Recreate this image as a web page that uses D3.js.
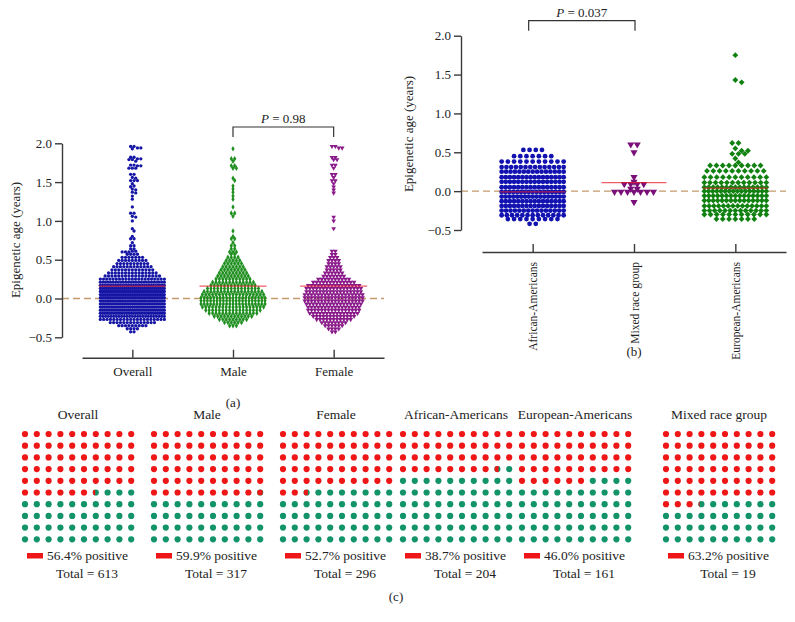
<!DOCTYPE html>
<html><head><meta charset="utf-8">
<script src="https://cdn.jsdelivr.net/npm/d3@7/dist/d3.min.js"></script>
<style>
html,body{margin:0;padding:0;background:#fff;}
text{font-family:"Liberation Serif","DejaVu Serif",serif;fill:#222;}
</style></head>
<body><svg id="chart" width="795" height="622"></svg>
<script>
// ---------------- DATA ----------------
// Panel (a): categories and [value, count] levels read from the swarm
const catsA = ["Overall", "Male", "Female"];
const maleVals = [
[1.93,1],[1.80,2],[1.77,1],[1.71,2],[1.68,2],[1.55,1],[1.52,1],[1.45,1],[1.41,1],[1.37,1],[1.32,1],[1.28,1],[1.18,1],[1.10,2],[1.06,1],[0.87,1],[0.80,1],[0.77,2],[0.72,1],[0.68,2],[0.64,2],[0.60,3],[0.57,2],
[0.53,4],[0.49,5],[0.45,6],[0.41,7],[0.37,8],[0.33,9],[0.29,10],[0.25,11],[0.21,13],[0.17,14],[0.13,16],[0.09,18],[0.05,19],[0.01,21],[-0.03,21],[-0.07,21],[-0.11,19],[-0.15,17],[-0.19,15],[-0.23,12],[-0.27,9],[-0.31,6],[-0.35,3]
];
const femaleVals = [
[1.96,2],[1.94,2],[1.82,2],[1.79,2],[1.72,2],[1.68,1],[1.60,2],[1.56,1],[1.52,2],[1.48,1],[1.44,1],[1.40,1],[1.36,1],[1.05,1],[1.00,1],[0.90,1],
[0.61,2],[0.57,2],[0.53,3],[0.49,4],[0.45,4],[0.41,5],[0.37,5],[0.33,6],[0.29,7],[0.25,10],[0.21,13],[0.17,16],[0.13,17],[0.09,17],[0.05,18],[0.01,18],[-0.03,18],[-0.07,17],[-0.11,16],[-0.15,16],[-0.19,15],[-0.23,13],[-0.27,11],[-0.31,8],[-0.35,6],[-0.39,4],[-0.43,2]
];
const meansA = [0.16, 0.16, 0.16];
const pTextA = "0.98";

// Panel (b)
const catsB = ["African-Americans", "Mixed race group", "European-Americans"];
const africanVals = [[0.53,4],[0.45,7],[0.38,11],[0.31,14],[0.25,15],[0.18,16],[0.12,16],[0.05,16],[-0.01,17],[-0.07,17],[-0.13,16],[-0.19,16],[-0.25,15],[-0.31,13],[-0.36,9],[-0.42,2]];
const mixedVals = [[0.60,2],[0.50,1],[0.18,1],[0.12,1],[0.09,4],[0.03,2],[-0.01,7],[-0.14,1]];
const europeanVals = [[1.75,1],[1.43,1],[1.40,1],[0.62,2],[0.55,1],[0.52,2],[0.48,3],[0.42,1],[0.37,1],[0.33,9],[0.26,10],[0.18,11],[0.11,12],[0.05,15],[0.00,16],[-0.06,15],[-0.12,15],[-0.19,14],[-0.25,13],[-0.30,11],[-0.36,7]];
const meansB = [-0.01, 0.11, 0.04];
const pTextB = "0.037";

const yTicks = [-0.5, 0.0, 0.5, 1.0, 1.5, 2.0];

// Panel (c): waffles
const waffleGroups = ["Overall", "Male", "Female", "African-Americans", "European-Americans", "Mixed race group"];
const positivePct = [56.4, 59.9, 52.7, 38.7, 46.0, 63.2];
const waffleTotals = [613, 317, 296, 204, 161, 19];

// ---------------- LAYOUT / STYLE ----------------
const svg = d3.select("#chart");
const COL = {
  blue: "#1515a5", green: "#1f8f1f", purple: "#8a1a8a",
  mean: "#e8202a", zero: "#c49a6c", axis: "#3a3a3a",
  wRed: "#ee1616", wGreen: "#13936a"
};

const triDown = {
  draw(ctx, size) {
    const s = Math.sqrt(size / 0.433), h = s * 0.866;
    ctx.moveTo(-s / 2, -h / 3); ctx.lineTo(s / 2, -h / 3); ctx.lineTo(0, 2 * h / 3); ctx.closePath();
  }
};

// merge male+female into overall
function mergeLevels(a, b) {
  const m = new Map();
  a.concat(b).forEach(([v, n]) => m.set(v, (m.get(v) || 0) + n));
  return Array.from(m.entries());
}
const overallVals = mergeLevels(maleVals, femaleVals);

function swarm(levels, y, maxW, step, d) {
  const rows = levels.slice().sort((p, q) => q[0] - p[0]);
  const placed = [];
  rows.forEach(([v, n]) => {
    const py = y(v);
    let offs;
    if ((n - 1) * step > maxW) {
      const sp = maxW / (n - 1);
      offs = d3.range(n).map(i => (i - (n - 1) / 2) * sp);
    } else {
      const base = d3.range(n).map(i => (i - (n - 1) / 2) * step);
      const shifts = [0, 0.5, -0.5, 1, -1, 1.5, -1.5, 2, -2];
      offs = base;
      for (const s of shifts) {
        const cand = base.map(o => o + s * step);
        if (cand.some(o => Math.abs(o) > maxW / 2 + 0.5)) continue;
        const ok = cand.every(o => placed.every(p => Math.abs(p.py - py) >= d * 0.8 ||
          Math.hypot(p.dx - o, p.py - py) >= d * 0.8));
        if (ok) { offs = cand; break; }
      }
    }
    offs.forEach(o => placed.push({ v, dx: o, py }));
  });
  return placed;
}

function drawPanel(cfg) {
  const g = svg.append("g");
  const y = d3.scaleLinear().domain([-0.5, 2.0]).range([cfg.yBottom, cfg.yTop]);
  const x = d3.scalePoint().domain(cfg.cats).range([cfg.xL, cfg.xR]).padding(0.5);

  // zero dashed line
  g.append("line").attr("x1", cfg.yAxisX).attr("x2", cfg.xR)
    .attr("y1", y(0)).attr("y2", y(0))
    .attr("stroke", COL.zero).attr("stroke-width", 1.4).attr("stroke-dasharray", "7,4");

  // y axis
  const ya = g.append("g").attr("transform", `translate(${cfg.yAxisX},0)`)
    .call(d3.axisLeft(y).tickValues(yTicks).tickFormat(d3.format(".1f")).tickSize(7).tickSizeOuter(0).tickPadding(3));
  ya.selectAll("path,line").attr("stroke", COL.axis).attr("stroke-width", 1.4);
  ya.selectAll("text").attr("font-size", 13).attr("fill", "#222");

  // x axis
  const xa = g.append("g").attr("transform", `translate(0,${cfg.xAxisY})`)
    .call(d3.axisBottom(x).tickSize(-8).tickSizeOuter(0).tickPadding(cfg.rotate ? 10 : 9));
  xa.selectAll("path,line").attr("stroke", COL.axis).attr("stroke-width", 1.4);
  xa.selectAll("text").attr("font-size", cfg.rotate ? 11.5 : 13).attr("fill", "#222");
  if (cfg.rotate) {
    xa.selectAll("text").attr("transform", "rotate(-90)").attr("text-anchor", "end")
      .attr("x", -10).attr("y", 0).attr("dy", "0.35em");
  }

  // y label
  g.append("text").attr("transform", `translate(${cfg.yLabelX},${cfg.yLabelY}) rotate(-90)`)
    .attr("text-anchor", "middle").attr("dy", "0.35em").attr("font-size", 13)
    .text("Epigenetic age (years)");

  // swarms
  cfg.series.forEach((s, i) => {
    const pts = swarm(s.vals, y, cfg.maxW, s.step, s.d);
    const cx = x(cfg.cats[i]);
    g.append("g").selectAll("path").data(pts).join("path")
      .attr("d", d3.symbol().type(s.sym).size(s.size))
      .attr("transform", p => `translate(${cx + p.dx},${y(p.v)})`)
      .attr("fill", s.color);
  });

  // mean lines
  cfg.means.forEach((m, i) => {
    const cx = x(cfg.cats[i]);
    g.append("line").attr("x1", cx - cfg.meanHalf).attr("x2", cx + cfg.meanHalf)
      .attr("y1", y(m)).attr("y2", y(m))
      .attr("stroke", COL.mean).attr("stroke-width", 1.3).attr("stroke-opacity", 0.72);
  });

  // bracket + P text
  const b1 = x(cfg.cats[cfg.bracket[0]]) + cfg.bracketAdj[0], b2 = x(cfg.cats[cfg.bracket[1]]) + cfg.bracketAdj[1];
  g.append("path").attr("d", `M${b1},${cfg.bTop + 10}V${cfg.bTop}H${b2}V${cfg.bTop + 10}`)
    .attr("fill", "none").attr("stroke", "#333").attr("stroke-width", 1.2);
  const pt = g.append("text").attr("x", (b1 + b2) / 2).attr("y", cfg.bTop - 4)
    .attr("text-anchor", "middle").attr("font-size", 13);
  pt.append("tspan").attr("font-style", "italic").text("P");
  pt.append("tspan").text(" = " + cfg.pText);

  // panel label
  g.append("text").attr("x", cfg.panelLabel[0]).attr("y", cfg.panelLabel[1])
    .attr("text-anchor", "middle").attr("font-size", 13).text(cfg.panelName);
}

drawPanel({
  cats: catsA, yTop: 143.3, yBottom: 337.3, xL: 82, xR: 384, yAxisX: 62, xAxisY: 357.7,
  yLabelX: 15, yLabelY: 240, maxW: 64, meanHalf: 33.5,
  series: [
    { vals: overallVals, color: COL.blue, sym: d3.symbolCircle, size: 8.5, step: 3.4, d: 3.3 },
    { vals: maleVals, color: COL.green, sym: d3.symbolDiamond, size: 9, step: 3.4, d: 3.4 },
    { vals: femaleVals, color: COL.purple, sym: triDown, size: 9.5, step: 3.4, d: 3.4 }
  ],
  means: meansA, bracket: [1, 2], bracketAdj: [0, 0], bTop: 127, pText: pTextA,
  panelLabel: [233, 407], panelName: "(a)"
});

drawPanel({
  cats: catsB, yTop: 35.7, yBottom: 230, xL: 482, xR: 786, yAxisX: 461, xAxisY: 252,
  yLabelX: 408, yLabelY: 134, maxW: 62, meanHalf: 32.5, rotate: true,
  series: [
    { vals: africanVals, color: "#1212b0", sym: d3.symbolCircle, size: 18, step: 6.2, d: 4.8 },
    { vals: mixedVals, color: "#7a0f7a", sym: triDown, size: 22, step: 6.5, d: 5.6 },
    { vals: europeanVals, color: "#118211", sym: d3.symbolDiamond2 || d3.symbolDiamond, size: 22, step: 6.3, d: 5.0 }
  ],
  means: meansB, bracket: [0, 1], bracketAdj: [-4, 1], bTop: 20.7, pText: pTextB,
  panelLabel: [634, 356], panelName: "(b)"
});

// ---------------- PANEL (c) WAFFLES ----------------
const waffleLeft = [25, 154, 283, 403, 522, 666];
const colX = d3.scaleLinear().domain([0, 9]).range([0, 106.2]);
const rowY = d3.scaleLinear().domain([0, 9]).range([434, 539.3]);
const R = 3.1;
const defs = svg.append("defs");

waffleGroups.forEach((name, k) => {
  const left = waffleLeft[k];
  const g = svg.append("g");
  g.append("text").attr("x", left + 53).attr("y", 419).attr("text-anchor", "middle")
    .attr("font-size", 13.5).text(name);
  const cells = d3.range(100).map(i => ({ i, c: i % 10, r: Math.floor(i / 10), f: Math.max(0, Math.min(1, positivePct[k] - i)) }));
  cells.forEach(d => {
    const cx = left + colX(d.c), cy = rowY(d.r);
    if (d.f >= 1) {
      g.append("circle").attr("cx", cx).attr("cy", cy).attr("r", R).attr("fill", COL.wRed);
    } else if (d.f <= 0) {
      g.append("circle").attr("cx", cx).attr("cy", cy).attr("r", R).attr("fill", COL.wGreen);
    } else {
      const id = "clip" + k;
      defs.append("clipPath").attr("id", id).append("rect")
        .attr("x", cx - R).attr("y", cy - R).attr("width", 2 * R * d.f).attr("height", 2 * R);
      g.append("circle").attr("cx", cx).attr("cy", cy).attr("r", R).attr("fill", COL.wGreen);
      g.append("circle").attr("cx", cx).attr("cy", cy).attr("r", R).attr("fill", COL.wRed)
        .attr("clip-path", `url(#${id})`);
    }
  });
  g.append("rect").attr("x", left + 2).attr("y", 553).attr("width", 16).attr("height", 5.5).attr("fill", COL.wRed);
  g.append("text").attr("x", left + 22).attr("y", 560).attr("font-size", 13.5)
    .text(d3.format(".1f")(positivePct[k]) + "% positive");
  g.append("text").attr("x", left + 62).attr("y", 578).attr("text-anchor", "middle").attr("font-size", 13.5)
    .text("Total = " + waffleTotals[k]);
});

svg.append("text").attr("x", 396).attr("y", 601).attr("text-anchor", "middle").attr("font-size", 13).text("(c)");
</script>
</body></html>
